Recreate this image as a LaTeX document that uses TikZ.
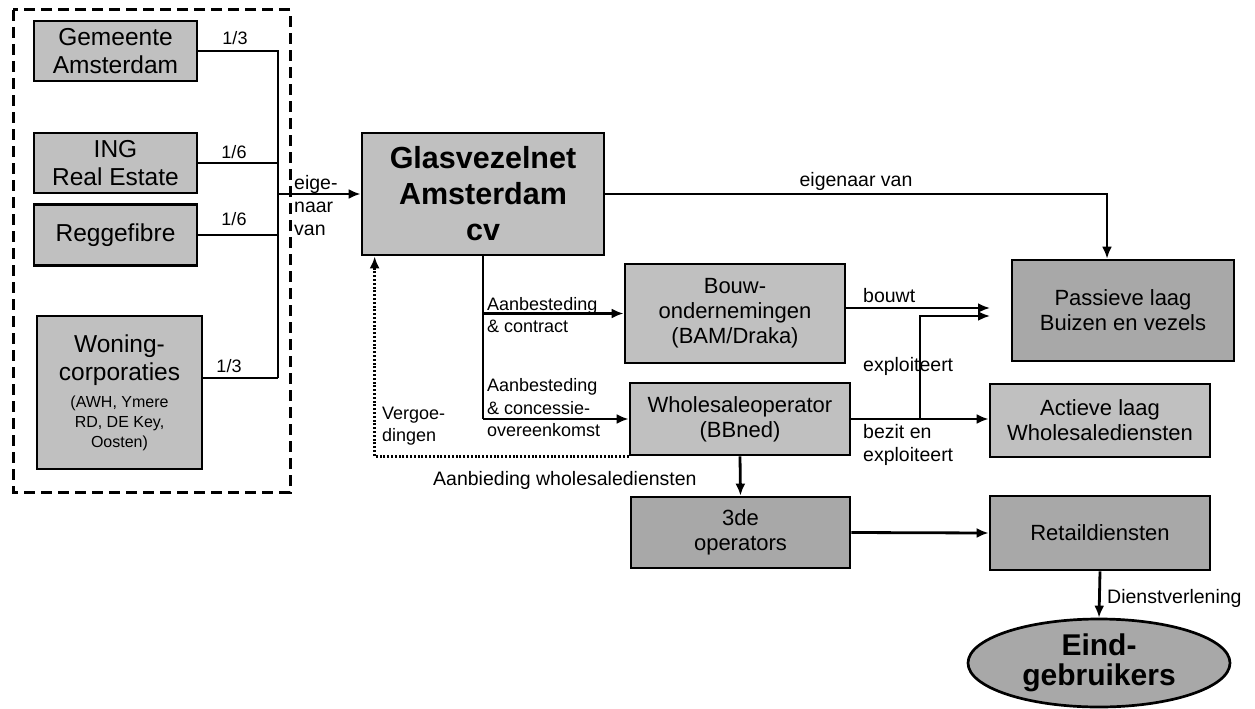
\documentclass[tikz,border=0pt]{standalone}
\usepackage{fontspec}
\setmainfont{Liberation Sans}
\usetikzlibrary{arrows.meta,shapes.geometric}
\definecolor{gA}{HTML}{C0C0C0}
\definecolor{gB}{HTML}{A8A8A8}
\newcommand\smallw{\fontsize{16}{20}\selectfont}
\tikzset{
  box/.style={draw, line width=2.7pt, fill=gA, align=center, inner sep=2pt,
    font=\fontsize{22}{25}\selectfont},
  dbox/.style={box, fill=gB},
  lbox/.style={box, font=\fontsize{24.5}{28}\selectfont},
  lbl/.style={font=\fontsize{18}{22.5}\selectfont, inner sep=0pt, align=left},
  blbl/.style={font=\fontsize{19.5}{23}\selectfont, inner sep=0pt, align=left},
  ln/.style={line width=2.8pt},
  arr/.style={line width=2.8pt, -{Latex[length=12pt,width=10pt]}},
  dotarr/.style={line width=3pt, dash pattern=on 2pt off 1.8pt, -{Latex[length=12pt,width=10pt]}},
}
\begin{document}
\begin{tikzpicture}[x=1pt,y=-1pt]
\useasboundingbox (0,0) rectangle (1255,709);
% dashed group
\draw[line width=3pt, dash pattern=on 11pt off 6pt] (13,10) rectangle (290,492);
% left boxes
\node[lbox, minimum width=163pt, minimum height=60pt] (gem) at (115.5,51) {Gemeente\\Amsterdam};
\node[lbox, minimum width=163pt, minimum height=60pt] (ing) at (115.5,163) {ING\\Real Estate};
\node[lbox, minimum width=163pt, minimum height=61pt] (reg) at (115.5,235) {Reggefibre};
\node[lbox, minimum width=165pt, minimum height=153pt] (won) at (119.5,392.5)
  {Woning-\\corporaties\\[-1pt]\smallw(AWH, Ymere\\[-8pt]\smallw RD, DE Key,\\[-8pt]\smallw Oosten)};
% main boxes
\node[box, minimum width=242pt, minimum height=122pt, font=\fontsize{30.5}{36}\selectfont\bfseries] (glas) at (483,194) {Glasvezelnet\\Amsterdam\\cv};
\node[box, minimum width=220pt, minimum height=99pt] (bouw) at (735,313.5) {Bouw-\\ondernemingen\\(BAM/Draka)};
\node[box, minimum width=220pt, minimum height=72pt] (whole) at (740,419) {Wholesaleoperator\\(BBned)};
\node[dbox, minimum width=222pt, minimum height=101pt] (pass) at (1123,310.5) {Passieve laag\\Buizen en vezels};
\node[box, minimum width=220pt, minimum height=73pt] (act) at (1100,420.5) {Actieve laag\\Wholesalediensten};
\node[dbox, minimum width=219pt, minimum height=71pt] (third) at (740.5,532.5) {3de\\operators};
\node[dbox, minimum width=220pt, minimum height=74pt] (retail) at (1100,533) {Retaildiensten};
\node[ellipse, draw, line width=2.7pt, fill=gB, minimum width=262pt, minimum height=88pt, inner sep=0pt, align=center, font=\fontsize{30}{30}\selectfont\bfseries] (eind) at (1099,663) {Eind-\\gebruikers};
% bus
\coordinate (busbot) at (278,378);
\draw[ln] (gem.east) -| (busbot);
\draw[ln] (ing.east) -- (ing.east -| busbot);
\draw[ln] (reg.east) -- (reg.east -| busbot);
\draw[ln] (busbot) -- (busbot -| won.east);
\draw[arr] (glas.west -| busbot) -- (glas.west);
\node[lbl, anchor=center] (f1) at (235,38) {1/3};
\node[lbl, anchor=center] (f2) at (234,152) {1/6};
\node[lbl, anchor=center] (f3) at (234,219) {1/6};
\node[lbl, anchor=center] (f4) at (229,366) {1/3};
\node[blbl, anchor=west] (eig) at (294,206) {eige-\\naar\\van};
% top connection
\draw[arr] (glas.east) -| ([xshift=-16pt]pass.north);
\node[blbl, anchor=center] (eigv) at (856,181) {eigenaar van};
% contracts
\coordinate (jw) at (glas.south |- whole.west);
\draw[ln] (glas.south) -- (jw);
\draw[arr] (glas.south |- bouw.west) -- (bouw.west);
\draw[arr] (jw) -- (whole.west);
\node[lbl, anchor=west] (ac1) at (487,315) {Aanbesteding\\\& contract};
\node[lbl, anchor=west] (ac2) at (487,408) {Aanbesteding\\\& concessie-\\overeenkomst};
% dotted return
\draw[dotarr] (whole.south west) -| ([xshift=14pt]glas.south west);
\node[lbl, anchor=west] (verg) at (382,426) {Vergoe-\\dingen};
% right side
\coordinate (pin1) at (990,308);
\coordinate (pin2) at (990,316);
\coordinate (jn) at (920,419);
\draw[arr] (bouw.east |- pin1) -- (pin1);
\draw[arr] (jn) |- (pin2);
\draw[arr] (whole.east) -- (whole.east -| act.west);
\node[blbl, anchor=west] (bw) at (863,296) {bouwt};
\node[blbl, anchor=west] (ex) at (863,366) {exploiteert};
\node[blbl, anchor=west] (bez) at (863,445) {bezit en\\exploiteert};
% bottom
\draw[arr] (whole.south) -- (third.north);
\node[blbl, anchor=west] (aanb) at (433,480) {Aanbieding wholesalediensten};
\draw[arr] (third.east) -- (retail.west);
\draw[arr] (retail.south) -- (eind.north);
\node[blbl, anchor=west] (dv) at (1107,598) {Dienstverlening};
\end{tikzpicture}
\end{document}
